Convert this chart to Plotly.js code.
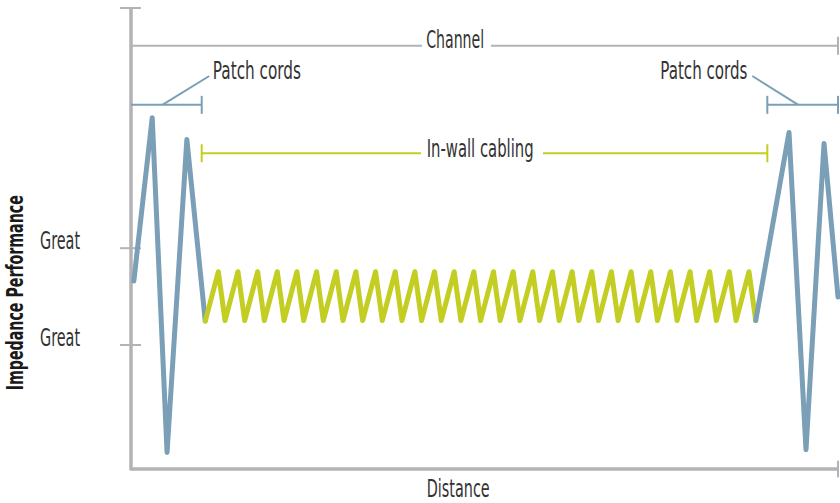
<!DOCTYPE html>
<html>
<head>
<meta charset="utf-8">
<script src="https://cdn.plot.ly/plotly-3.0.1.min.js"></script>
<style>
  html, body { margin: 0; padding: 0; background: #fff; }
  #chart { width: 840px; height: 503px; }
  .scatterlayer .js-line { stroke-linejoin: round !important; stroke-linecap: round !important; }
</style>
</head>
<body>
<div id="chart"></div>
<script>
// ---- Data (distance in metres along a 100 m channel, impedance in arbitrary units) ----
const patchLeftX  = [0.4, 3.0, 5.1, 7.9, 10.5];
const patchLeftY  = [40.8, 76.2, 3.6, 71.5, 32.1];

const inWallX = [10.5,
  12.35, 13.30, 15.13, 16.08, 17.91, 18.86, 20.69, 21.64, 23.47, 24.42,
  26.25, 27.20, 29.03, 29.98, 31.81, 32.76, 34.59, 35.54, 37.37, 38.32,
  40.15, 41.10, 42.93, 43.88, 45.71, 46.66, 48.49, 49.44, 51.27, 52.22,
  54.05, 55.00, 56.83, 57.78, 59.61, 60.56, 62.39, 63.34, 65.17, 66.12,
  67.95, 68.90, 70.73, 71.68, 73.51, 74.46, 76.29, 77.24, 79.07, 80.02,
  81.85, 82.80, 84.63, 85.58, 87.41, 88.36];
const inWallY = [32.1,
  42.8, 32.2, 42.8, 32.2, 42.8, 32.2, 42.8, 32.2, 42.8, 32.2,
  42.8, 32.2, 42.8, 32.2, 42.8, 32.2, 42.8, 32.2, 42.8, 32.2,
  42.8, 32.2, 42.8, 32.2, 42.8, 32.2, 42.8, 32.2, 42.8, 32.2,
  42.8, 32.2, 42.8, 32.2, 42.8, 32.2, 42.8, 32.2, 42.8, 32.2,
  42.8, 32.2, 42.8, 32.2, 42.8, 32.2, 42.8, 32.2, 42.8, 32.2,
  42.8, 32.2, 42.8, 32.2, 42.8, 32.2];

const patchRightX = [88.36, 93.07, 95.47, 98.02, 100.0];
const patchRightY = [32.2, 73.0, 4.2, 70.6, 37.3];

const yTickVals  = [47.9, 26.9];
const yTickText  = ["Great", "Great"];
const xAxisTitle = "Distance";
const yAxisTitle = "Impedance Performance";

// span markers: [label, start, end]
const channelSpan = ["Channel", 0, 100];
const patchLeftSpan = ["Patch cords", 0, 10];
const patchRightSpan = ["Patch cords", 90, 100];
const inWallSpan = ["In-wall cabling", 10, 90];

// ---- Styles ----
const BLUE = "#7a9fb6";
const GREEN = "#c4ce22";
const AXIS = "#b3b3b5";
const TEXT = "#333333";
const FONT = "'DejaVu Sans Condensed', 'Liberation Sans Narrow', sans-serif";

const traces = [
  { x: patchLeftX, y: patchLeftY, mode: "lines", line: { color: BLUE, width: 5 }, hoverinfo: "skip" },
  { x: inWallX, y: inWallY, mode: "lines", line: { color: GREEN, width: 5 }, hoverinfo: "skip" },
  { x: patchRightX, y: patchRightY, mode: "lines", line: { color: BLUE, width: 5 }, hoverinfo: "skip" }
];

function seg(x0, y0, x1, y1, color, width) {
  return { type: "line", xref: "x", yref: "y", x0, y0, x1, y1, line: { color, width }, layer: "below" };
}

const yChannel = 91.8, yPatch = 79.0, yWall = 68.5, cap = 1.95;
const shapes = [
  // axes
  seg(0, -0.35, 0, 100, AXIS, 3.5),
  seg(0, 0, 100, 0, AXIS, 3.5),
  seg(-1.56, 100, 1.41, 100, AXIS, 2),
  seg(100, -1.8, 100, 1.8, AXIS, 2),
  // y ticks
  ...yTickVals.map(v => seg(-1.56, v, 1.41, v, AXIS, 2)),
  // channel span (gap left for its label)
  seg(channelSpan[1], yChannel, 41.16, yChannel, AXIS, 2),
  seg(50.92, yChannel, channelSpan[2], yChannel, AXIS, 2),
  seg(channelSpan[2], yChannel - cap, channelSpan[2], yChannel + cap, AXIS, 2),
  // patch left
  seg(patchLeftSpan[1], yPatch, patchLeftSpan[2], yPatch, BLUE, 2),
  seg(patchLeftSpan[2], yPatch - cap, patchLeftSpan[2], yPatch + cap, BLUE, 2),
  seg(4.43, yPatch, 11.07, 85.25, BLUE, 2),
  // patch right
  seg(patchRightSpan[1], yPatch, patchRightSpan[2], yPatch, BLUE, 2),
  seg(patchRightSpan[1], yPatch - cap, patchRightSpan[1], yPatch + cap, BLUE, 2),
  seg(patchRightSpan[2], yPatch - cap, patchRightSpan[2], yPatch + cap, BLUE, 2),
  seg(94.38, yPatch, 87.88, 85.25, BLUE, 2),
  // in-wall (gap left for its label)
  seg(inWallSpan[1], yWall, 41.02, yWall, GREEN, 2),
  seg(58.27, yWall, inWallSpan[2], yWall, GREEN, 2),
  seg(inWallSpan[1], yWall - cap, inWallSpan[1], yWall + cap, GREEN, 2),
  seg(inWallSpan[2], yWall - cap, inWallSpan[2], yWall + cap, GREEN, 2)
];

const tf = { family: FONT, size: 25, color: TEXT };
const tfs = { family: FONT, size: 24, color: TEXT };
// fit: target rendered width of each label in px (the original face is a tall condensed font)
const annotations = [
  { text: channelSpan[0], x: 45.83, y: yChannel, yshift: 6, fit: 58 },
  { text: inWallSpan[0], x: 49.43, y: yWall, yshift: 5, fit: 107 },
  { text: patchLeftSpan[0], x: 17.82, y: 86.55, fit: 88 },
  { text: patchRightSpan[0], x: 81.07, y: 86.55, fit: 87 },
  { text: xAxisTitle, x: 46.25, y: -4.4, fit: 63, font: tfs },
  { text: yAxisTitle, x: -16.34, y: 38.29, textangle: -90, fit: 195,
    font: { family: FONT, size: 23, color: "#1a1a1a", weight: "bold" } },
  ...yTickVals.map((v, i) => ({ text: yTickText[i], x: -10.04, y: v, yshift: 7, fit: 40, font: tfs }))
].map(a => Object.assign({ xanchor: "center", yanchor: "middle", showarrow: false, font: tf }, a));

const fits = annotations.map(a => a.fit);
annotations.forEach(a => delete a.fit);

const layout = {
  width: 840, height: 503,
  margin: { l: 0, r: 0, t: 0, b: 0, pad: 0 },
  paper_bgcolor: "#ffffff", plot_bgcolor: "#ffffff",
  showlegend: false,
  xaxis: { range: [-18.53, 100.28], showgrid: false, zeroline: false, showline: false, showticklabels: false, ticks: "", fixedrange: true },
  yaxis: { range: [-7.375, 101.74], showgrid: false, zeroline: false, showline: false, showticklabels: false, ticks: "", fixedrange: true },
  shapes, annotations
};

Plotly.newPlot("chart", traces, layout, { staticPlot: true, displayModeBar: false }).then(gd => {
  gd.querySelectorAll("g.annotation").forEach(g => {
    const i = +g.getAttribute("data-index");
    const t = g.querySelector("text.annotation-text");
    if (t && fits[i]) {
      t.setAttribute("textLength", fits[i]);
      t.setAttribute("lengthAdjust", "spacingAndGlyphs");
    }
  });
});
</script>
</body>
</html>
